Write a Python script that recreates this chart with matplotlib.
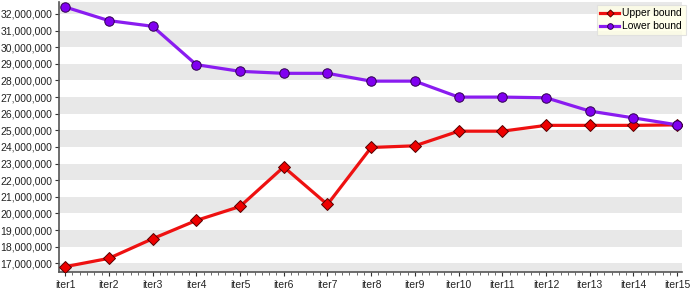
import numpy as np
import matplotlib
matplotlib.use("Agg")
import matplotlib.pyplot as plt
from matplotlib.ticker import FuncFormatter, MultipleLocator, AutoMinorLocator

# data (values in units)
iters = [f"iter{i}" for i in range(1, 16)]
upper = [16.80, 17.30, 18.48, 19.58, 20.42, 22.80, 20.54, 23.97, 24.07,
         24.95, 24.95, 25.30, 25.30, 25.30, 25.33]
lower = [32.42, 31.60, 31.26, 28.95, 28.55, 28.43, 28.43, 27.96, 27.96,
         27.00, 27.00, 26.96, 26.16, 25.75, 25.33]
upper = np.array(upper) * 1e6
lower = np.array(lower) * 1e6

plt.rcParams['font.family'] = 'Liberation Sans'
fig = plt.figure(figsize=(6.9, 2.91), dpi=100)
ax = fig.add_axes([59 / 690, 1 - 272 / 291, (682 - 59) / 690, (272 - 2) / 291])

x = np.arange(1, 16)
ymin, ymax = 16.48e6, 32.72e6

# alternating gray bands
for lo in range(16, 33, 2):
    ax.axhspan(lo * 1e6, (lo + 1) * 1e6, color='#e8e8e8', lw=0, zorder=0)

ax.plot(x, upper, color='#ee1111', lw=2.3, marker='D', ms=6,
        mfc='#ee0000', mec='#550000', mew=0.7, label='Upper bound', zorder=3)
ax.plot(x, lower, color='#8a1cf0', lw=2.3, marker='o', ms=6.8,
        mfc='#8000f0', mec='#300050', mew=0.7, label='Lower bound', zorder=3)

ax.set_xlim(0.86, 15.11)
ax.set_ylim(ymin, ymax)
ax.set_xticks(x)
ax.set_xticklabels(iters)
ax.xaxis.set_minor_locator(AutoMinorLocator(6))
ax.yaxis.set_major_locator(MultipleLocator(1e6))
ax.yaxis.set_major_formatter(FuncFormatter(lambda v, p: f"{v:,.0f}"))

for s in ['top', 'right']:
    ax.spines[s].set_visible(False)
for s in ['left', 'bottom']:
    ax.spines[s].set_color('#555555')
    ax.spines[s].set_linewidth(1.2)
ax.tick_params(axis='both', which='major', labelsize=7.5, colors='#333333',
               length=3, width=0.8)
ax.tick_params(axis='x', which='minor', length=2, width=0.6, colors='#555555')
ax.tick_params(axis='x', pad=3)
ax.tick_params(axis='y', pad=2)
for lab in ax.get_xticklabels() + ax.get_yticklabels():
    lab.set_color('#222222')

leg = ax.legend(loc='upper right', bbox_to_anchor=(1.014, 1.01), fontsize=7.5,
                frameon=True, fancybox=False, facecolor='#ffffe6',
                edgecolor='#dddddd', handlelength=1.8, handletextpad=0.3,
                borderpad=0.35, labelspacing=0.3, markerscale=0.6)
leg.get_frame().set_linewidth(0.8)

fig.savefig('out.png', dpi=100)
